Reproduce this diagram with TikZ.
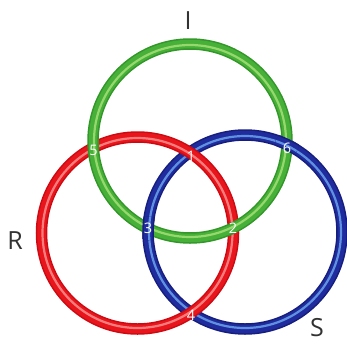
\documentclass[tikz,border=0pt]{standalone}
\usepackage{fontspec}
\setmainfont{Open Sans}
\definecolor{gmain}{RGB}{70,176,56}
\definecolor{gdark}{RGB}{50,150,40}
\definecolor{glight}{RGB}{150,215,110}
\definecolor{rmain}{RGB}{232,22,28}
\definecolor{rdark}{RGB}{205,10,18}
\definecolor{rlight}{RGB}{250,125,125}
\definecolor{bmain}{RGB}{32,44,158}
\definecolor{bdark}{RGB}{22,30,125}
\definecolor{blight}{RGB}{95,145,225}
\definecolor{txt}{RGB}{50,50,50}
\tikzset{
  ringedge/.style={line width=11.5pt},
  ringbase/.style={line width=8.5pt},
  ringhi/.style={line width=2.2pt},
  numlab/.style={text=white, font=\fontsize{14.5}{14.5}\selectfont, inner sep=0pt},
  biglab/.style={text=txt, font=\fontsize{25}{25}\selectfont, inner sep=0pt}
}
\begin{document}
\begin{tikzpicture}[x=1pt,y=-1pt]
\useasboundingbox (0,0) rectangle (347,343);
\coordinate (cg) at (190,141);
\coordinate (cr) at (137.5,233);
\coordinate (cb) at (245,232);
% blue ring
\draw[ringedge,bdark] (cb) circle[radius=97];
\draw[ringbase,bmain] (cb) circle[radius=97];
\draw[ringhi,blight] (cb) circle[radius=96];
% red ring
\draw[ringedge,rdark] (cr) circle[radius=96];
\draw[ringbase,rmain] (cr) circle[radius=96];
\draw[ringhi,rlight] (cr) circle[radius=95];
% green ring
\draw[ringedge,gdark] (cg) circle[radius=97];
\draw[ringbase,gmain] (cg) circle[radius=97];
\draw[ringhi,glight] (cg) circle[radius=96];
% blue over green at crossings 3 and 6
\coordinate (p3) at (148.1,228.4);
\coordinate (p6) at (286.9,144.6);
\foreach \p in {p3,p6}{
  \begin{scope}
    \clip (\p) circle[radius=12];
    \draw[ringedge,bdark] (cb) circle[radius=97];
    \draw[ringbase,bmain] (cb) circle[radius=97];
    \draw[ringhi,blight] (cb) circle[radius=96];
  \end{scope}
}
% crossing labels
\node[numlab] (n5) at (93.5,150) {5};
\node[numlab] (n1) at (191,156) {1};
\node[numlab] (n6) at (287,148) {6};
\node[numlab] (n3) at (148,228) {3};
\node[numlab] (n2) at (233,228) {2};
\node[numlab] (n4) at (191,315) {4};
% ring labels
\node[biglab] (lI) at (188,21) {I};
\node[biglab] (lR) at (15,241) {R};
\node[biglab] (lS) at (317,328) {S};
\end{tikzpicture}
\end{document}
